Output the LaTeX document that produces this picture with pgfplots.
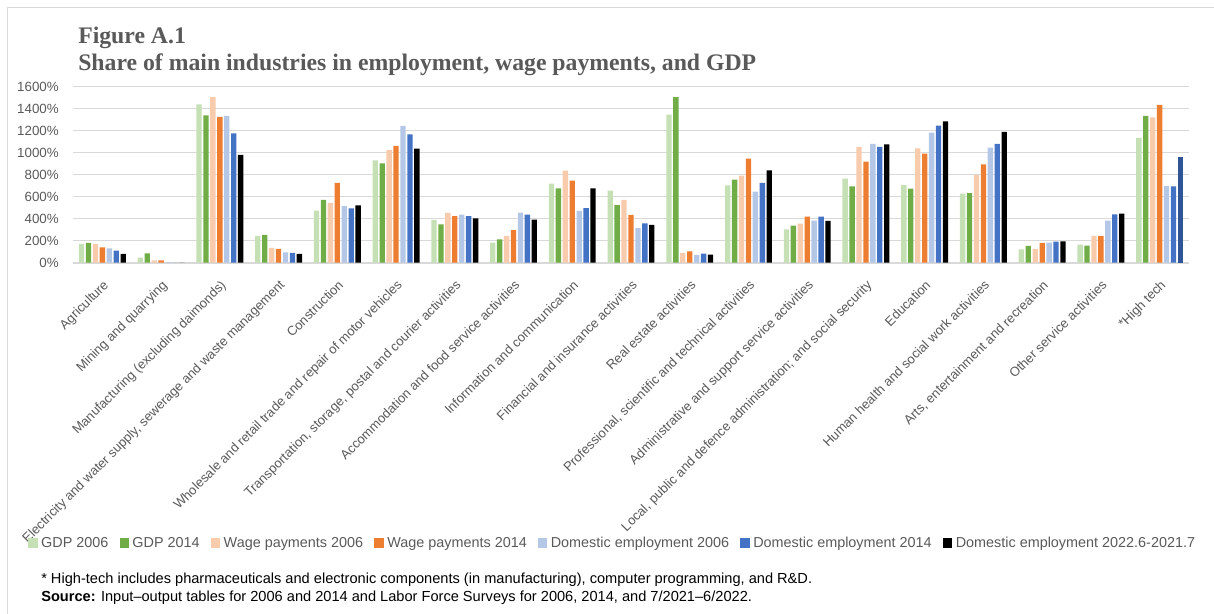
\documentclass[border=0pt]{standalone}
\usepackage{fontspec}
\setmainfont{Liberation Sans}
\newfontfamily\serifttl{Liberation Serif}
\usepackage{pgfplots}
\pgfplotsset{compat=1.18}
\usepackage{pgfplotstable}
\definecolor{gA}{HTML}{C5E0B4}
\definecolor{gB}{HTML}{70AD47}
\definecolor{wA}{HTML}{F8CBAD}
\definecolor{wB}{HTML}{ED7D31}
\definecolor{dA}{HTML}{B4C7E7}
\definecolor{dB}{HTML}{4472C4}
\definecolor{dC}{HTML}{000000}
\definecolor{dH}{HTML}{2F5597}
\definecolor{txt}{HTML}{595959}
\definecolor{grd}{HTML}{D9D9D9}

\pgfplotstableread{
x g06 g14 w06 w14 d06 d14 d22
0 170 180 170 140 130 110 80
1 45 85 20 20 5 0 0
2 1440 1340 1505 1325 1334 1176 979
3 243 252 134 125 94 88 79
4 473 570 543 725 515 494 521
5 931 903 1024 1061 1243 1167 1036
6 388 349 452 424 436 424 403
7 182 212 243 297 455 436 391
8 718 676 836 745 470 497 676
9 655 524 570 434 313 358 343
10 1345 1506 88 103 70 82 73
11 703 755 791 945 645 725 840
12 303 336 355 418 382 418 379
13 764 694 1052 918 1079 1052 1076
14 706 673 1040 991 1182 1245 1285
15 627 633 797 894 1046 1079 1188
16 122 152 125 179 182 191 194
17 164 155 243 243 382 440 446
18 1134 1334 1322 1434 697 694 nan
}\data
\pgfplotstableread{
x v
18 961
}\hightech

\begin{document}
\begin{tikzpicture}
\useasboundingbox (0pt,0pt) rectangle (910.5pt,-460.5pt);
\draw[grd, line width=0.75pt] (5.25pt,-460.5pt) -- (5.25pt,-5.25pt) -- (910.5pt,-5.25pt);
\node[anchor=base west, inner sep=0pt, text=txt, font=\serifttl\bfseries\fontsize{17.8}{20}\selectfont] at (58.5pt,-32.5pt) {Figure A.1};
\node[anchor=base west, inner sep=0pt, text=txt, font=\serifttl\bfseries\fontsize{17.8}{20}\selectfont] at (58.5pt,-52.5pt) {Share of main industries in employment, wage payments, and GDP};
\begin{axis}[
  at={(54.75pt,-197pt)}, anchor=south west,
  scale only axis, width=837pt, height=132pt,
  xmin=-0.5, xmax=18.5, ymin=0, ymax=1600,
  ytick={0,200,...,1600},
  xtick={0,...,18},
  xticklabels={{Agriculture},{Mining and quarrying},{Manufacturing (excluding daimonds)},{Electricity and water supply, sewerage and waste management},{Construction},{Wholesale and retail trade and repair of motor vehicles},{Transportation, storage, postal and courier activities},{Accommodation and food service activities},{Information and communication},{Financial and insurance activities},{Real estate activities},{Professional, scientific and technical activities},{Administrative and support service activities},{Local, public and defence administration; and social security},{Education},{Human health and social work activities},{Arts, entertainment and recreation},{Other service activities},{*High tech}},
  xticklabel style={rotate=45, anchor=north east, inner sep=0pt, font=\fontsize{9.8}{11}\selectfont, text=txt},
  xticklabel shift=12.2pt,
  yticklabel={\pgfmathprintnumber{\tick}\%},
  /pgf/number format/.cd, 1000 sep={}, assume math mode=true,
  /pgfplots/.cd,
  yticklabel style={inner sep=0pt, xshift=-10.5pt, font=\fontsize{10}{12}\selectfont, text=txt},
  major tick length=0pt,
  axis x line*=bottom, axis y line*=left,
  y axis line style={draw=none},
  x axis line style={draw=grd, line width=1.4pt, -},
  ymajorgrids, grid style={grd, line width=1pt},
  legend image code/.code={\fill[#1] (0pt,-3.5pt) rectangle (7pt,3.5pt);},
  legend columns=-1,
  legend style={at={(-0.0403,-1.5926)}, anchor=west, draw=none, fill=none, inner sep=0pt,
    font=\fontsize{10.8}{12}\selectfont, text=txt, nodes={inner sep=0pt},
    /tikz/every odd column/.append style={column sep=2.7pt},
    /tikz/every even column/.append style={column sep=8.3pt}},
  legend cell align=left,
]
\addplot[ybar, bar width=4pt, bar shift=-15.6pt, fill=gA, draw=none] table[x=x,y=g06]{\data};
\addlegendentry{GDP 2006}
\addplot[ybar, bar width=4pt, bar shift=-10.4pt, fill=gB, draw=none] table[x=x,y=g14]{\data};
\addlegendentry{GDP 2014}
\addplot[ybar, bar width=4pt, bar shift=-5.2pt, fill=wA, draw=none] table[x=x,y=w06]{\data};
\addlegendentry{Wage payments 2006}
\addplot[ybar, bar width=4pt, bar shift=0pt, fill=wB, draw=none] table[x=x,y=w14]{\data};
\addlegendentry{Wage payments 2014}
\addplot[ybar, bar width=4pt, bar shift=5.2pt, fill=dA, draw=none] table[x=x,y=d06]{\data};
\addlegendentry{Domestic employment 2006}
\addplot[ybar, bar width=4pt, bar shift=10.4pt, fill=dB, draw=none] table[x=x,y=d14]{\data};
\addlegendentry{Domestic employment 2014}
\addplot[ybar, bar width=4pt, bar shift=15.6pt, fill=dC, draw=none] table[x=x,y=d22]{\data};
\addlegendentry{Domestic employment 2022.6-2021.7}
\addplot[ybar, bar width=4pt, bar shift=15.6pt, fill=dH, draw=none, forget plot] table[x=x,y=v]{\hightech};
\end{axis}
\node[anchor=base west, inner sep=0pt, font=\fontsize{10.95}{12}\selectfont] at (30.75pt,-437.25pt) {* High-tech includes pharmaceuticals and electronic components (in manufacturing), computer programming, and R\&D.};
\node[anchor=base west, inner sep=0pt, font=\fontsize{10.95}{12}\selectfont] at (30.75pt,-451pt) {\textbf{Source:} Input–output tables for 2006 and 2014 and Labor Force Surveys for 2006, 2014, and 7/2021–6/2022.};
\end{tikzpicture}
\end{document}
